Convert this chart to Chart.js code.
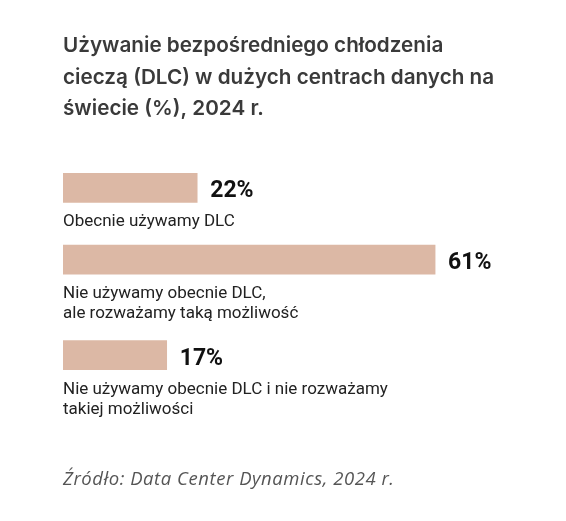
<!DOCTYPE html>
<html><head><meta charset="utf-8">
<script src="https://cdn.jsdelivr.net/npm/chart.js@4"></script>
<style>html,body{margin:0;padding:0;background:#fff}#w{width:566px;height:521px}</style>
</head><body><div id="w"><canvas id="c" width="566" height="521"></canvas></div>
<script>
const titleLines = ['Używanie bezpośredniego chłodzenia', 'cieczą (DLC) w dużych centrach danych na', 'świecie (%), 2024 r.'];
const categoryLines = [
  ['Obecnie używamy DLC'],
  ['Nie używamy obecnie DLC,', 'ale rozważamy taką możliwość'],
  ['Nie używamy obecnie DLC i nie rozważamy', 'takiej możliwości']
];
const values = [22, 61, 17];
const sourceText = 'Źródło: Data Center Dynamics, 2024 r.';

// row slots derived from number of label lines
const rowPos = [];
categoryLines.forEach((l, i) => { rowPos.push(i === 0 ? 0 : rowPos[i-1] + 2 + categoryLines[i-1].length); });

const textPlugin = {
  id: 'texts',
  afterDatasetsDraw(chart) {
    const ctx = chart.ctx;
    const left = chart.chartArea.left;
    ctx.save();
    ctx.textAlign = 'left';
    ctx.textBaseline = 'alphabetic';
    ctx.fillStyle = '#3a3a3a';
    ctx.font = '600 20.7px Inter';
    titleLines.forEach((t, i) => ctx.fillText(t, left, 52 + i * 31.6));
    const meta = chart.getDatasetMeta(0);
    meta.data.forEach((bar, i) => {
      ctx.fillStyle = '#111';
      ctx.font = 'bold 23px Roboto';
      ctx.fillText(values[i] + '%', bar.x + 13, bar.y + 9.5);
      ctx.fillStyle = '#222';
      ctx.font = '17px Roboto';
      categoryLines[i].forEach((t, j) => ctx.fillText(t, left, bar.y + bar.height / 2 + 24 + j * 20));
    });
    ctx.fillStyle = '#555';
    ctx.font = 'italic 18.5px "Open Sans"';
    ctx.letterSpacing = '0.55px';
    ctx.fillText(sourceText, left, 485);
    ctx.restore();
  }
};

new Chart(document.getElementById('c'), {
  type: 'bar',
  data: {
    datasets: [{
      data: values.map((v, i) => ({ x: v, y: rowPos[i] })),
      backgroundColor: '#dcb8a5',
      borderWidth: 0,
      barThickness: 29
    }]
  },
  options: {
    indexAxis: 'y',
    responsive: false,
    animation: false,
    layout: { padding: { left: 63, right: 15, top: 152, bottom: 130 } },
    plugins: { legend: { display: false }, tooltip: { enabled: false }, title: { display: false } },
    scales: {
      x: { type: 'linear', min: 0, max: 80, display: false },
      y: { type: 'linear', min: -1, max: 8, reverse: true, display: false }
    }
  },
  plugins: [textPlugin]
});
</script></body></html>
